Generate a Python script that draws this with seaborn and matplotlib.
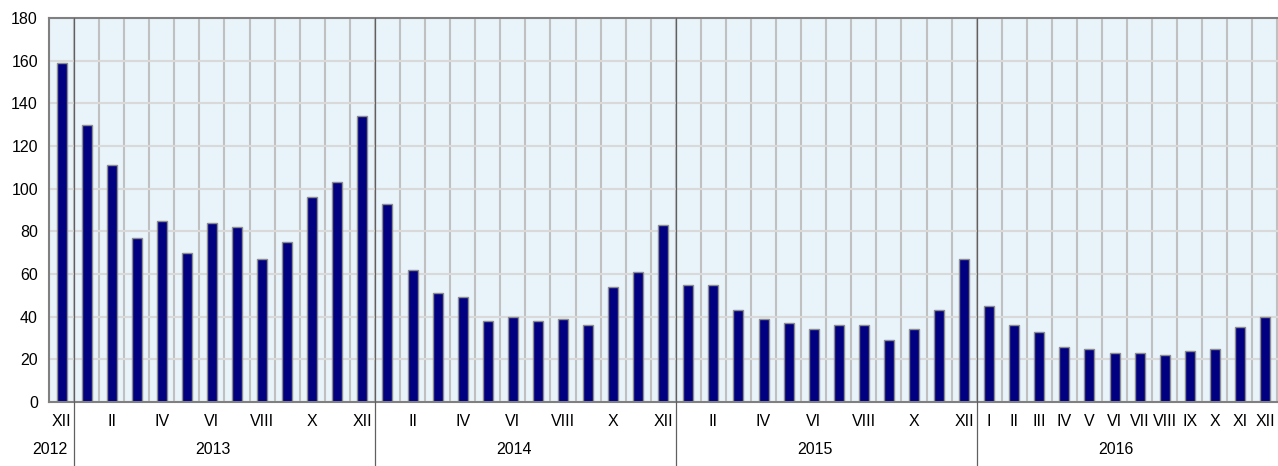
import pandas as pd
import matplotlib.pyplot as plt
import seaborn as sns

# monthly values, XII 2012 .. XII 2016
values = [159,
          130, 111, 77, 85, 70, 84, 82, 67, 75, 96, 103, 134,
          93, 62, 51, 49, 38, 40, 38, 39, 36, 54, 61, 83,
          55, 55, 43, 39, 37, 34, 36, 36, 29, 34, 43, 67,
          45, 36, 33, 26, 25, 23, 23, 22, 24, 25, 35, 40]

# month tick labels (blank where the original skips one)
month_labels = ['XII',
                '', 'II', '', 'IV', '', 'VI', '', 'VIII', '', 'X', '', 'XII',
                '', 'II', '', 'IV', '', 'VI', '', 'VIII', '', 'X', '', 'XII',
                '', 'II', '', 'IV', '', 'VI', '', 'VIII', '', 'X', '', 'XII',
                'I', 'II', 'III', 'IV', 'V', 'VI', 'VII', 'VIII', 'IX', 'X', 'XI', 'XII']

years = ['2012', '2013', '2014', '2015', '2016']
months_per_year = [1, 12, 12, 12, 12]

df = pd.DataFrame({'idx': range(len(values)), 'value': values})

sns.set_style('white')
plt.rcParams['font.family'] = ['Liberation Sans', 'DejaVu Sans']
plt.rcParams['text.color'] = 'black'

fig = plt.figure(figsize=(12.78, 4.66), dpi=100)
ax = fig.add_axes([49 / 1278, 64 / 466, 1 - 49 / 1278 - 0.5 / 1278, 384 / 466])
ax.set_facecolor('#e8f3fa')

sns.barplot(x='idx', y='value', data=df, color='#000080', width=0.4,
            edgecolor='#8c8c8c', linewidth=1, saturation=1, ax=ax)

n = len(values)
ax.set_xlim(-0.5, n - 0.5)
ax.set_ylim(0, 180)
ax.set_yticks(range(0, 181, 20))
ax.set_xticks(range(n))
ax.set_xticklabels(month_labels)
ax.set_xticks([i - 0.5 for i in range(n + 1)], minor=True)
ax.tick_params(axis='x', which='major', length=0, pad=9, labelsize=11.5, labelcolor='black')
ax.tick_params(axis='x', which='minor', length=5, width=1.2, color='#808080', direction='out')
ax.tick_params(axis='y', length=5, width=1.2, color='#808080', labelsize=11.5, pad=3,
               labelcolor='black')
ax.set_xlabel('')
ax.set_ylabel('')

ax.grid(True, axis='y', color='#d9d9d9', linewidth=1.5)
ax.grid(True, axis='x', which='minor', color='#c0c0c0', linewidth=1.5)
ax.grid(False, axis='x', which='major')
ax.set_axisbelow(True)

for side in ['left', 'bottom', 'top']:
    ax.spines[side].set_color('#808080')
    ax.spines[side].set_linewidth(1.5)
ax.spines['right'].set_visible(False)

# year separators and year labels
start = 0
trans = ax.get_xaxis_transform()
for year, count in zip(years, months_per_year):
    if start > 0:
        ax.plot([start - 0.5, start - 0.5], [1, -0.167], color='#606060',
                linewidth=0.9, transform=trans, clip_on=False, zorder=5)
    center = start - 0.5 + count / 2 - 0.45
    ax.text(center, -0.125, year, transform=trans, ha='center', va='center',
            fontsize=11.5, color='black')
    start += count

fig.savefig('out.png', dpi=100)
